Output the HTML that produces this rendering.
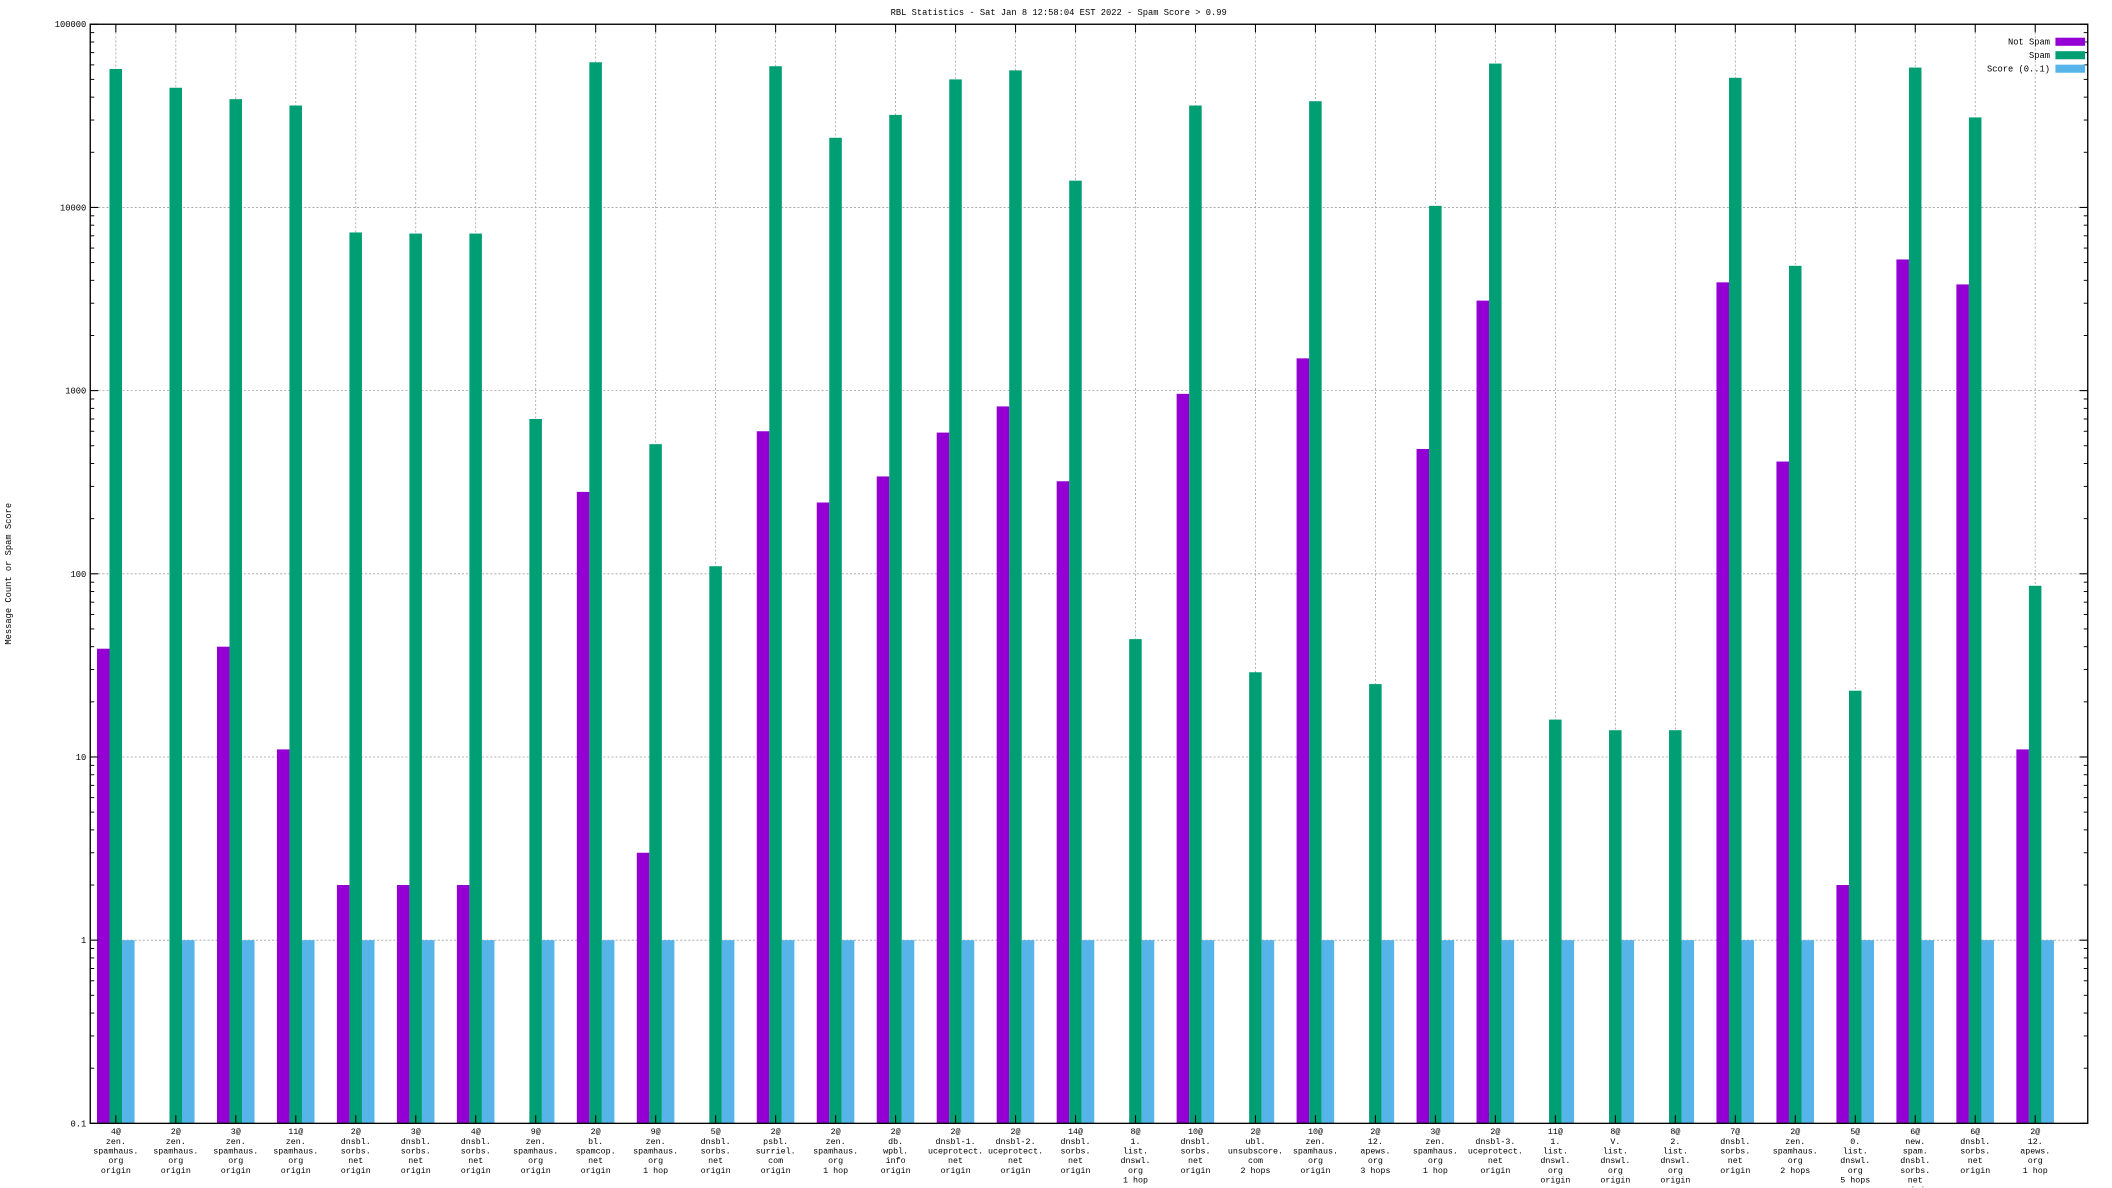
<!DOCTYPE html>
<html><head><meta charset="utf-8"><style>
html,body{margin:0;padding:0;background:#fff;}
svg{display:block;}
text{font-family:"Liberation Mono",monospace;fill:#000;}
</style></head><body>
<svg id="chart" width="2112" height="1188" viewBox="0 0 1568 882" xmlns="http://www.w3.org/2000/svg">
<text x="786" y="11" font-size="6.5" text-anchor="middle">RBL Statistics - Sat Jan  8 12:58:04 EST 2022 - Spam Score &gt; 0.99</text>
<text x="0" y="0" font-size="6.5" text-anchor="middle" transform="translate(8,426) rotate(-90)">Message Count or Spam Score</text>
<g id="grid"></g><g id="bars"></g><g id="axes"></g><g id="labels"></g>
<g>
<text x="1522" y="33" font-size="6.5" text-anchor="end">Not Spam</text>
<rect x="1526" y="28" width="22" height="6" fill="#9400d3"/>
<text x="1522" y="43" font-size="6.5" text-anchor="end">Spam</text>
<rect x="1526" y="38" width="22" height="6" fill="#009e73"/>
<text x="1522" y="53" font-size="6.5" text-anchor="end">Score (0..1)</text>
<rect x="1526" y="48" width="22" height="6" fill="#56b4e9"/>
</g>
</svg>
<script>
const categories = [
"4@|zen.|spamhaus.|org|origin","2@|zen.|spamhaus.|org|origin","3@|zen.|spamhaus.|org|origin","11@|zen.|spamhaus.|org|origin",
"2@|dnsbl.|sorbs.|net|origin","3@|dnsbl.|sorbs.|net|origin","4@|dnsbl.|sorbs.|net|origin","9@|zen.|spamhaus.|org|origin",
"2@|bl.|spamcop.|net|origin","9@|zen.|spamhaus.|org|1 hop","5@|dnsbl.|sorbs.|net|origin","2@|psbl.|surriel.|com|origin",
"2@|zen.|spamhaus.|org|1 hop","2@|db.|wpbl.|info|origin","2@|dnsbl-1.|uceprotect.|net|origin","2@|dnsbl-2.|uceprotect.|net|origin",
"14@|dnsbl.|sorbs.|net|origin","8@|1.|list.|dnswl.|org|1 hop","10@|dnsbl.|sorbs.|net|origin","2@|ubl.|unsubscore.|com|2 hops",
"10@|zen.|spamhaus.|org|origin","2@|12.|apews.|org|3 hops","3@|zen.|spamhaus.|org|1 hop","2@|dnsbl-3.|uceprotect.|net|origin",
"11@|1.|list.|dnswl.|org|origin","8@|V.|list.|dnswl.|org|origin","8@|2.|list.|dnswl.|org|origin","7@|dnsbl.|sorbs.|net|origin",
"2@|zen.|spamhaus.|org|2 hops","5@|0.|list.|dnswl.|org|5 hops","6@|new.|spam.|dnsbl.|sorbs.|net|origin","6@|dnsbl.|sorbs.|net|origin",
"2@|12.|apews.|org|1 hop"];
const notSpam = [39,null,40,11,2,2,2,null,280,3,null,600,245,340,590,820,320,null,960,null,1500,null,480,3100,null,null,null,3900,410,2,5200,3800,11];
const spam = [57000,45000,39000,36000,7300,7200,7200,700,62000,510,110,59000,24000,32000,50000,56000,14000,44,36000,29,38000,25,10200,61000,16,14,14,51000,4800,23,58000,31000,86];
const score = [1,1,1,1,1,1,1,1,1,1,1,1,1,1,1,1,1,1,1,1,1,1,1,1,1,1,1,1,1,1,1,1,1];
const yTicks = ["0.1","1","10","100","1000","10000","100000"];

const NS="http://www.w3.org/2000/svg";
const L=67,R=1550,T=18,B=834;
const yMin=-1,yMax=5;
function y(v){return B-(Math.log10(v)-yMin)/(yMax-yMin)*(B-T);}
function x(i){return 86+i*(1511-86)/(categories.length-1);}
function mk(tag,attrs,parent){const e=document.createElementNS(NS,tag);for(const k in attrs)e.setAttribute(k,attrs[k]);parent.appendChild(e);return e;}
const grid=document.getElementById('grid'),bars=document.getElementById('bars'),axes=document.getElementById('axes'),labels=document.getElementById('labels');
const dash={stroke:"#a0a0a0","stroke-width":0.6,"stroke-dasharray":"1.5,1.5"};
yTicks.forEach(t=>{const v=parseFloat(t),yy=y(v);
  if(v>0.1&&v<100000){const g=mk('line',Object.assign({x1:L,x2:R,y1:yy,y2:yy},dash),grid);
  
  }
  const tx=mk('text',{x:L-3,y:yy+2.2,'font-size':6.5,'text-anchor':'end'},labels);tx.textContent=t;
  
  
  mk('line',{x1:L,x2:L+6,y1:yy,y2:yy,stroke:'#000','stroke-width':0.8},axes);
  mk('line',{x1:R,x2:R-6,y1:yy,y2:yy,stroke:'#000','stroke-width':0.8},axes);
  if(v<100000){for(let m=2;m<=9;m++){const my=y(v*m);
    mk('line',{x1:L,x2:L+3,y1:my,y2:my,stroke:'#000','stroke-width':0.7},axes);
    mk('line',{x1:R,x2:R-3,y1:my,y2:my,stroke:'#000','stroke-width':0.7},axes);}}
});
const bw=9.3;
categories.forEach((c,i)=>{const cx=x(i);
  const g=mk('line',Object.assign({x1:cx,x2:cx,y1:T,y2:B},dash),grid);
  
  
  mk('line',{x1:cx,x2:cx,y1:B,y2:B-6,stroke:'#000','stroke-width':0.8},axes);
  mk('line',{x1:cx,x2:cx,y1:T,y2:T+6,stroke:'#000','stroke-width':0.8},axes);
  const series=[[notSpam[i],'#9400d3',-14,'bar-not-spam'],[spam[i],'#009e73',-4.7,'bar-spam'],[score[i],'#56b4e9',4.6,'bar-score']];
  series.forEach(s=>{if(s[0]==null)return;const yy=y(s[0]);
    const r=mk('rect',{x:cx+s[2],y:yy,width:bw,height:B-yy,fill:s[1]},bars);
    
    });
  const t=mk('text',{x:cx,y:B+8,'font-size':6.2,'text-anchor':'middle'},labels);
  
  
  c.split('|').forEach((ln,k)=>{const ts=mk('tspan',{x:cx,dy:k?7.2:0},t);ts.textContent=ln;});
});
mk('rect',{x:L,y:T,width:R-L,height:B-T,fill:'none',stroke:'#000','stroke-width':1},axes);
</script>
</body></html>
